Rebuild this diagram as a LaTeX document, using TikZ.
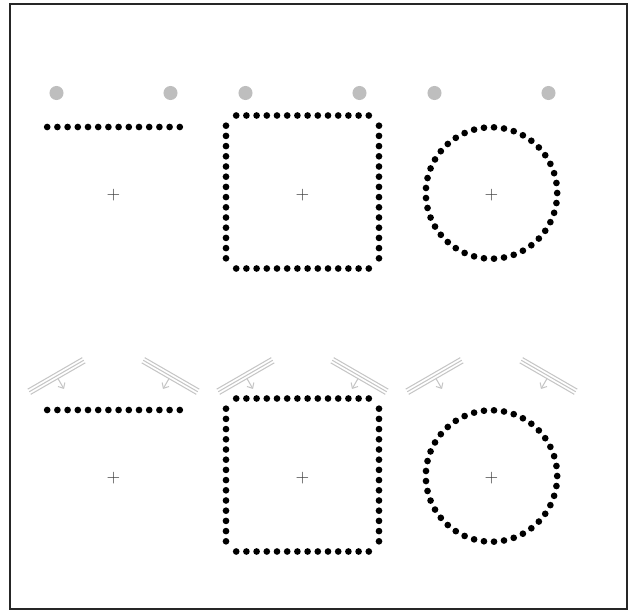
\documentclass[tikz,border=0pt]{standalone}
\usepackage{xcolor}
\usepackage{tikz}
\usetikzlibrary{calc,arrows.meta}
\definecolor{lampgrey}{HTML}{BEBEBE}
\definecolor{raygrey}{HTML}{C6C6C6}
\definecolor{markgrey}{HTML}{404040}
\tikzset{
  sample/.style    = {fill=black},
  lamp/.style      = {fill=lampgrey},
  sunline/.style   = {draw=raygrey, line width=0.6pt},
  sunray/.style    = {-{Straight Barb[length=2.5pt, width=4.5pt]}, draw=raygrey, line width=0.6pt},
  centremark/.style= {font=\normalsize, color=markgrey, inner sep=0pt},
  outerframe/.style= {draw=black!85, line width=0.8pt},
}
\begin{document}
\begin{tikzpicture}[x=0.02cm, y=0.02cm]
    \useasboundingbox (0,0) rectangle (633,610);
    \draw[outerframe] (10,1) rectangle (627,606);

    % ---------------- sample shapes, both rows
    \foreach \cy/\rw in {415/top, 132/bot} {
      % line
      \node[centremark] (line\rw) at (113.5,\cy) {+};
      \foreach \i in {0,...,13}
        \fill[sample] (113.5-66.3+10.2*\i, \cy+68) circle[radius=1.9pt];
      % square
      \node[centremark] (square\rw) at (302.5,\cy) {+};
      \foreach \i in {0,...,13} {
        \fill[sample] (302.5-66.3+10.2*\i, \cy+79.5) circle[radius=1.9pt];
        \fill[sample] (302.5-66.3+10.2*\i, \cy-73.5) circle[radius=1.9pt];
        \fill[sample] (226, \cy+3-66.3+10.2*\i) circle[radius=1.9pt];
        \fill[sample] (379, \cy+3-66.3+10.2*\i) circle[radius=1.9pt];
      }
      % circle
      \node[centremark] (ring\rw) at (491.5,\cy) {+};
      \foreach \i in {0,...,40}
        \fill[sample] ($(491.5,\cy+2)+(360/41*\i:65.7)$) circle[radius=1.9pt];
    }

    % ---------------- row 1: point lights
    \foreach \cx in {113.5, 302.5, 491.5} {
      \fill[lamp] (\cx-57,517) circle[radius=4pt];
      \fill[lamp] (\cx+57,517) circle[radius=4pt];
    }

    % ---------------- row 2: directional lights
    \foreach \cx/\sx/\ang in {113.5/-57/30, 113.5/57/-30,
                              302.5/-57/30, 302.5/57/-30,
                              491.5/-57/30, 491.5/57/-30} {
      \begin{scope}[shift={(\cx+\sx,234)}, rotate=\ang]
        \foreach \o in {-3,0,3} \draw[sunline] (-31.5,\o) -- (31.5,\o);
        \coordinate (raytail) at (0,-3);
        \coordinate (rayhead) at (0,-15);
        \draw[sunray] (raytail) -- (rayhead);
      \end{scope}
    }
\end{tikzpicture}
\end{document}
